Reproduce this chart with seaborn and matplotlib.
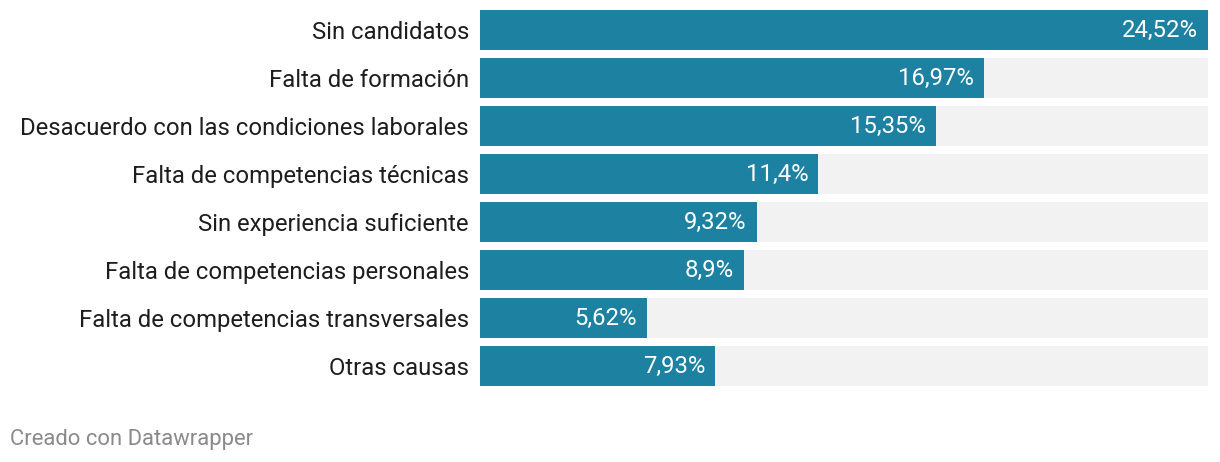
import matplotlib
matplotlib.use("Agg")
import matplotlib.pyplot as plt
import seaborn as sns
import pandas as pd

categories = [
    "Sin candidatos",
    "Falta de formación",
    "Desacuerdo con las condiciones laborales",
    "Falta de competencias técnicas",
    "Sin experiencia suficiente",
    "Falta de competencias personales",
    "Falta de competencias transversales",
    "Otras causas",
]
values = [24.52, 16.97, 15.35, 11.4, 9.32, 8.9, 5.62, 7.93]
value_labels = ["24,52%", "16,97%", "15,35%", "11,4%", "9,32%", "8,9%", "5,62%", "7,93%"]
footer = "Creado con Datawrapper"

sns.set_theme(style="white")
plt.rcParams["font.family"] = ["Roboto", "DejaVu Sans"]

W, H = 1220, 462
fig = plt.figure(figsize=(W / 100, H / 100), dpi=100)
ax = fig.add_axes([480 / W, (H - 390) / H, (1208 - 480) / W, 384 / H])

vmax = max(values)
df = pd.DataFrame({"cat": categories, "val": values, "bg": [vmax] * len(values)})

sns.barplot(data=df, x="bg", y="cat", orient="h", color="#f2f2f2", saturation=1,
            width=40 / 48, linewidth=0, ax=ax)
sns.barplot(data=df, x="val", y="cat", orient="h", color="#1d81a2", saturation=1,
            width=40 / 48, linewidth=0, ax=ax)

ax.set_xlim(0, vmax)
ax.set_ylim(len(categories) - 0.5, -0.5)
ax.set_xlabel("")
ax.set_ylabel("")
ax.set_xticks([])
ax.tick_params(axis="y", length=0, pad=8, labelsize=17.2, labelcolor="#1d1d1d")
for s in ax.spines.values():
    s.set_visible(False)

pad = 10 * vmax / (1208 - 480)
for i, (v, lab) in enumerate(zip(values, value_labels)):
    ax.text(v - pad, i, lab, ha="right", va="center", color="white", fontsize=17.2)

fig.text(10 / W, (H - 440) / H, footer, ha="left", va="center", color="#8a8a8a", fontsize=15.8)

fig.savefig("out.png", dpi=100, facecolor="white")
